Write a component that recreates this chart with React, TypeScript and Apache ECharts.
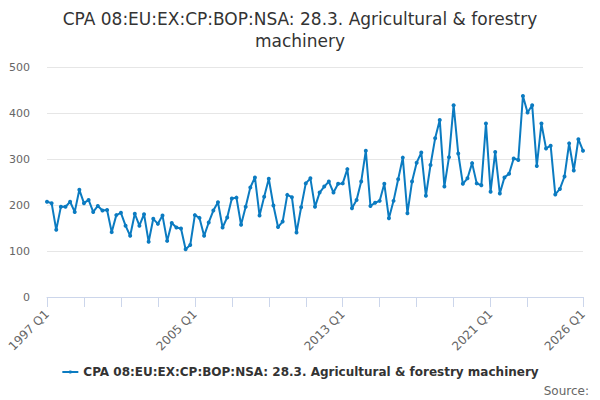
import React, { useEffect, useRef } from "react";
import * as echarts from "echarts";

const startYear = 1997;
const quarterCount = 117;

const values: number[] = [
  207, 204, 146, 196,
  196, 207, 185, 233,
  204, 211, 185, 198,
  188, 189, 141, 178,
  183, 155, 133, 181,
  155, 180, 120, 170,
  159, 177, 122, 161,
  151, 149, 104, 113,
  178, 172, 133, 162,
  188, 206, 151, 173,
  214, 216, 157, 196,
  238, 260, 177, 218,
  257, 199, 152, 164,
  222, 217, 140, 195,
  247, 258, 196, 227,
  240, 251, 227, 246,
  247, 278, 193, 211,
  251, 318, 198, 205,
  209, 246, 171, 209,
  256, 303, 182, 251,
  292, 314, 220, 287,
  345, 385, 240, 304,
  417, 312, 246, 258,
  291, 247, 243, 377,
  229, 315, 225, 260,
  268, 301, 298, 437,
  401, 417, 285, 377,
  323, 329, 223, 235,
  262, 334, 275, 343,
  318,
];

const categories: string[] = Array.from({ length: quarterCount }, (_, i) =>
  `${startYear + Math.floor(i / 4)} Q${(i % 4) + 1}`
);

const seriesName = "CPA 08:EU:EX:CP:BOP:NSA: 28.3. Agricultural & forestry machinery";
const titleLines = ["CPA 08:EU:EX:CP:BOP:NSA: 28.3. Agricultural & forestry", "machinery"];

export default function App() {
  const ref = useRef<HTMLDivElement>(null);

  useEffect(() => {
    document.body.style.margin = "0";
    if (!ref.current) return;
    const chart = echarts.init(ref.current, undefined, { renderer: "svg" });
    const font = "DejaVu Sans";
    const titleStyle = {
      fontFamily: font,
      fontSize: 17,
      fontWeight: "normal",
      color: "#333333",
    };
    chart.setOption({
      animation: false,
      textStyle: { fontFamily: font },
      title: [
        { text: titleLines[0], left: "center", top: 5, textStyle: titleStyle },
        { text: titleLines[1], left: "center", top: 27, textStyle: titleStyle },
      ],
      grid: { left: 47, right: 17, top: 67, bottom: 103, containLabel: false },
      xAxis: {
        type: "category",
        data: categories,
        boundaryGap: false,
        axisLine: { lineStyle: { color: "#ccd6eb", width: 1 } },
        axisTick: {
          show: true,
          length: 10,
          lineStyle: { color: "#ccd6eb" },
          interval: (i: number) => (i % 8 === 0 && i !== 112) || i === quarterCount - 1,
        },
        axisLabel: {
          interval: (i: number) => i % 32 === 0 || i === quarterCount - 1,
          rotate: 45,
          color: "#666666",
          fontSize: 12,
          fontFamily: font,
          margin: 15,
        },
        splitLine: { show: false },
      },
      yAxis: {
        type: "value",
        min: 0,
        max: 500,
        interval: 100,
        axisLine: { show: false },
        axisTick: { show: false },
        axisLabel: { color: "#666666", fontSize: 11, fontFamily: font, margin: 17 },
        splitLine: { lineStyle: { color: "#e6e6e6" } },
      },
      legend: {
        bottom: 17,
        left: "center",
        itemWidth: 16,
        itemHeight: 4,
        textStyle: { fontFamily: font, fontSize: 12, fontWeight: "bold", color: "#333333" },
        data: [seriesName],
      },
      graphic: [
        {
          type: "text",
          right: 11,
          bottom: 3,
          style: { text: "Source:", fontFamily: font, fontSize: 12, fill: "#666666" },
        },
      ],
      series: [
        {
          name: seriesName,
          type: "line",
          data: values,
          symbol: "circle",
          symbolSize: 4,
          showSymbol: true,
          showAllSymbol: true,
          lineStyle: { width: 2, color: "#0b7bc1" },
          itemStyle: { color: "#0b7bc1" },
        },
      ],
    });
    return () => chart.dispose();
  }, []);

  return <div ref={ref} style={{ width: 600, height: 400 }} />;
}
